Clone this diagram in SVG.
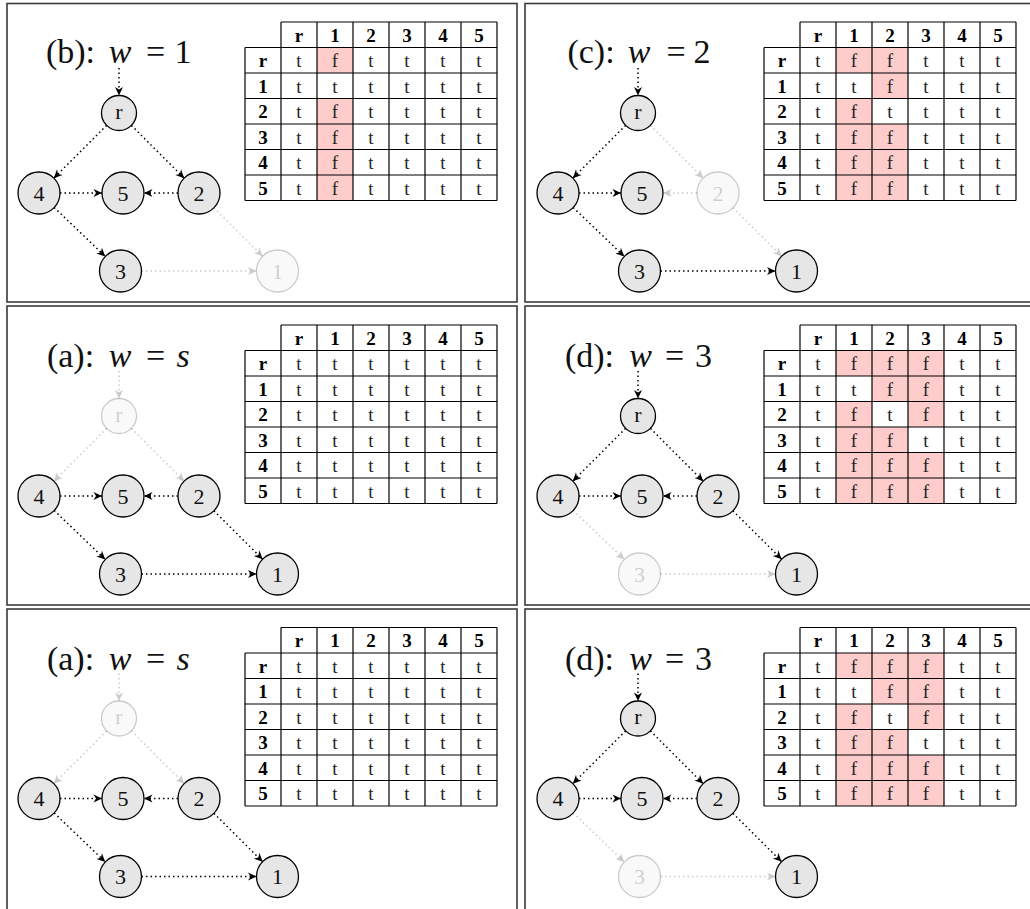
<svg xmlns="http://www.w3.org/2000/svg" xmlns:xlink="http://www.w3.org/1999/xlink" width="1030" height="909" viewBox="0 0 1030 909">
<style>
.bg{fill:#fff}
.frame{fill:none;stroke:#3a3a3a;stroke-width:1.6}
.nd circle{fill:#e6e6e6;stroke:#000;stroke-width:1.3}
.nd text{font-family:"Liberation Serif",serif;font-size:22px;text-anchor:middle;fill:#111}
.ed line{stroke:#000;stroke-width:1.5;stroke-dasharray:1.5 3;marker-end:url(#ah)}
.fd{opacity:.2}
.tl{font-family:"Liberation Serif",serif;font-size:34px;text-anchor:middle;fill:#111}
.gl{stroke:#000;stroke-width:1.2}
.hd{font-family:"Liberation Serif",serif;font-size:19px;font-weight:bold;text-anchor:middle;fill:#000}
.cl{font-family:"Liberation Serif",serif;font-size:19px;text-anchor:middle;fill:#222}
.pk{fill:#ffcccc}
</style>
<defs>
<marker id="ah" markerUnits="userSpaceOnUse" viewBox="-9 -5 10 10" refX="0" refY="0" markerWidth="10" markerHeight="10" orient="auto">
<path d="M0,0 L-8.5,-4 L-6,0 L-8.5,4 Z" fill="#000"/>
</marker>
<g id="grid">
<g class="gl">
<line x1="281" y1="22" x2="497" y2="22"/>
<line x1="245" y1="47.5" x2="497" y2="47.5"/>
<line x1="245" y1="73" x2="497" y2="73"/>
<line x1="245" y1="98.5" x2="497" y2="98.5"/>
<line x1="245" y1="124" x2="497" y2="124"/>
<line x1="245" y1="149.5" x2="497" y2="149.5"/>
<line x1="245" y1="175" x2="497" y2="175"/>
<line x1="245" y1="200.5" x2="497" y2="200.5"/>
<line x1="245" y1="47.5" x2="245" y2="200.5"/>
<line x1="281" y1="22" x2="281" y2="200.5"/>
<line x1="317" y1="22" x2="317" y2="200.5"/>
<line x1="353" y1="22" x2="353" y2="200.5"/>
<line x1="389" y1="22" x2="389" y2="200.5"/>
<line x1="425" y1="22" x2="425" y2="200.5"/>
<line x1="461" y1="22" x2="461" y2="200.5"/>
<line x1="497" y1="22" x2="497" y2="200.5"/>
</g>
<text class="hd" x="299 335 371 407 443 479" y="41.5">r12345</text>
<text class="hd" x="263 263 263 263 263 263" y="67 92.5 118 143.5 169 194.5">r12345</text>
</g>
</defs>
<rect class="bg" x="0" y="0" width="1030" height="909"/>

<!-- frames -->
<g id="frames">
<rect class="frame" x="7" y="3.5" width="510" height="298.5"/>
<rect class="frame" x="525" y="3.5" width="515" height="298.5"/>
<rect class="frame" x="7" y="306" width="510" height="299"/>
<rect class="frame" x="525" y="306" width="515" height="299"/>
<rect class="frame" x="7" y="609" width="510" height="310"/>
<rect class="frame" x="525" y="609" width="515" height="310"/>
</g>

<!-- Panel 1: (b) w=1 -->
<g id="panel-b" transform="translate(0,0)">
<text class="tl" y="63"><tspan x="70.5">(b):</tspan><tspan x="120" font-style="italic">w</tspan><tspan x="155.5">=</tspan><tspan x="183">1</tspan></text>
<g id="p1-edges" class="ed">
<line x1="119" y1="68" x2="119" y2="95.5"/>
<line x1="106.6" y1="125.4" x2="53.8" y2="178.2"/>
<line x1="131.4" y1="125.4" x2="184.2" y2="178.2"/>
<line x1="60" y1="193" x2="102" y2="193"/>
<line x1="178" y1="193" x2="144" y2="193"/>
<line x1="54.2" y1="207.5" x2="105.3" y2="256.5"/>
<g class="fd">
<line x1="213.9" y1="207.8" x2="262.6" y2="256.2"/>
<line x1="141.5" y1="271" x2="256.5" y2="271"/>
</g>
</g>
<g id="p1-r" class="nd"><circle cx="119" cy="113" r="17.5"/><text x="119" y="118.5">r</text></g>
<g id="p1-4" class="nd"><circle cx="39" cy="193" r="21"/><text x="39" y="200.5">4</text></g>
<g id="p1-5" class="nd"><circle cx="123" cy="193" r="21"/><text x="123" y="200.5">5</text></g>
<g id="p1-2" class="nd"><circle cx="199" cy="193" r="21"/><text x="199" y="200.5">2</text></g>
<g id="p1-3" class="nd"><circle cx="120.5" cy="271" r="21"/><text x="120.5" y="278.5">3</text></g>
<g id="p1-1" class="nd fd"><circle cx="277.5" cy="271" r="21"/><text x="277.5" y="278.5">1</text></g>
<g id="p1-table">
<rect class="pk" x="317" y="47.5" width="36" height="25.5"/>
<rect class="pk" x="317" y="98.5" width="36" height="102"/>
<use href="#grid" xlink:href="#grid"/>
<text class="cl" x="299 335 371 407 443 479" y="67">tftttt</text>
<text class="cl" x="299 335 371 407 443 479" y="92.5">tttttt</text>
<text class="cl" x="299 335 371 407 443 479" y="118">tftttt</text>
<text class="cl" x="299 335 371 407 443 479" y="143.5">tftttt</text>
<text class="cl" x="299 335 371 407 443 479" y="169">tftttt</text>
<text class="cl" x="299 335 371 407 443 479" y="194.5">tftttt</text>
</g>
</g>

<!-- Panel 2: (c) w=2 -->
<g id="panel-c" transform="translate(519,0)">
<text class="tl" y="63"><tspan x="72">(c):</tspan><tspan x="120" font-style="italic">w</tspan><tspan x="157">=</tspan><tspan x="183">2</tspan></text>
<g id="p2-edges" class="ed">
<line x1="119" y1="68" x2="119" y2="95.5"/>
<line x1="106.6" y1="125.4" x2="53.8" y2="178.2"/>
<line x1="60" y1="193" x2="102" y2="193"/>
<line x1="54.2" y1="207.5" x2="105.3" y2="256.5"/>
<line x1="141.5" y1="271" x2="256.5" y2="271"/>
<g class="fd">
<line x1="131.4" y1="125.4" x2="184.2" y2="178.2"/>
<line x1="178" y1="193" x2="144" y2="193"/>
<line x1="213.9" y1="207.8" x2="262.6" y2="256.2"/>
</g>
</g>
<g id="p2-r" class="nd"><circle cx="119" cy="113" r="17.5"/><text x="119" y="118.5">r</text></g>
<g id="p2-4" class="nd"><circle cx="39" cy="193" r="21"/><text x="39" y="200.5">4</text></g>
<g id="p2-5" class="nd"><circle cx="123" cy="193" r="21"/><text x="123" y="200.5">5</text></g>
<g id="p2-2" class="nd fd"><circle cx="199" cy="193" r="21"/><text x="199" y="200.5">2</text></g>
<g id="p2-3" class="nd"><circle cx="120.5" cy="271" r="21"/><text x="120.5" y="278.5">3</text></g>
<g id="p2-1" class="nd"><circle cx="277.5" cy="271" r="21"/><text x="277.5" y="278.5">1</text></g>
<g id="p2-table">
<rect class="pk" x="317" y="47.5" width="36" height="25.5"/>
<rect class="pk" x="317" y="98.5" width="36" height="102"/>
<rect class="pk" x="353" y="47.5" width="36" height="51"/>
<rect class="pk" x="353" y="124" width="36" height="76.5"/>
<use href="#grid" xlink:href="#grid"/>
<text class="cl" x="299 335 371 407 443 479" y="67">tffttt</text>
<text class="cl" x="299 335 371 407 443 479" y="92.5">ttfttt</text>
<text class="cl" x="299 335 371 407 443 479" y="118">tftttt</text>
<text class="cl" x="299 335 371 407 443 479" y="143.5">tffttt</text>
<text class="cl" x="299 335 371 407 443 479" y="169">tffttt</text>
<text class="cl" x="299 335 371 407 443 479" y="194.5">tffttt</text>
</g>
</g>

<!-- Panel 3: (a) w=s -->
<g id="panel-a1" transform="translate(0,303)">
<text class="tl" y="64"><tspan x="70.5">(a):</tspan><tspan x="120" font-style="italic">w</tspan><tspan x="155.5">=</tspan><tspan x="183" font-style="italic">s</tspan></text>
<g id="p3-edges" class="ed">
<line x1="60" y1="193" x2="102" y2="193"/>
<line x1="178" y1="193" x2="144" y2="193"/>
<line x1="54.2" y1="207.5" x2="105.3" y2="256.5"/>
<line x1="213.9" y1="207.8" x2="262.6" y2="256.2"/>
<line x1="141.5" y1="271" x2="256.5" y2="271"/>
<g class="fd">
<line x1="119" y1="68" x2="119" y2="95.5"/>
<line x1="106.6" y1="125.4" x2="53.8" y2="178.2"/>
<line x1="131.4" y1="125.4" x2="184.2" y2="178.2"/>
</g>
</g>
<g id="p3-r" class="nd fd"><circle cx="119" cy="113" r="17.5"/><text x="119" y="118.5">r</text></g>
<g id="p3-4" class="nd"><circle cx="39" cy="193" r="21"/><text x="39" y="200.5">4</text></g>
<g id="p3-5" class="nd"><circle cx="123" cy="193" r="21"/><text x="123" y="200.5">5</text></g>
<g id="p3-2" class="nd"><circle cx="199" cy="193" r="21"/><text x="199" y="200.5">2</text></g>
<g id="p3-3" class="nd"><circle cx="120.5" cy="271" r="21"/><text x="120.5" y="278.5">3</text></g>
<g id="p3-1" class="nd"><circle cx="277.5" cy="271" r="21"/><text x="277.5" y="278.5">1</text></g>
<g id="p3-table">
<use href="#grid" xlink:href="#grid"/>
<text class="cl" x="299 335 371 407 443 479" y="67">tttttt</text>
<text class="cl" x="299 335 371 407 443 479" y="92.5">tttttt</text>
<text class="cl" x="299 335 371 407 443 479" y="118">tttttt</text>
<text class="cl" x="299 335 371 407 443 479" y="143.5">tttttt</text>
<text class="cl" x="299 335 371 407 443 479" y="169">tttttt</text>
<text class="cl" x="299 335 371 407 443 479" y="194.5">tttttt</text>
</g>
</g>

<!-- Panel 4: (d) w=3 -->
<g id="panel-d1" transform="translate(519,303)">
<text class="tl" y="64"><tspan x="70.5">(d):</tspan><tspan x="121.5" font-style="italic">w</tspan><tspan x="155.5">=</tspan><tspan x="184.5">3</tspan></text>
<g id="p4-edges" class="ed">
<line x1="119" y1="68" x2="119" y2="95.5"/>
<line x1="106.6" y1="125.4" x2="53.8" y2="178.2"/>
<line x1="131.4" y1="125.4" x2="184.2" y2="178.2"/>
<line x1="60" y1="193" x2="102" y2="193"/>
<line x1="178" y1="193" x2="144" y2="193"/>
<line x1="213.9" y1="207.8" x2="262.6" y2="256.2"/>
<g class="fd">
<line x1="54.2" y1="207.5" x2="105.3" y2="256.5"/>
<line x1="141.5" y1="271" x2="256.5" y2="271"/>
</g>
</g>
<g id="p4-r" class="nd"><circle cx="119" cy="113" r="17.5"/><text x="119" y="118.5">r</text></g>
<g id="p4-4" class="nd"><circle cx="39" cy="193" r="21"/><text x="39" y="200.5">4</text></g>
<g id="p4-5" class="nd"><circle cx="123" cy="193" r="21"/><text x="123" y="200.5">5</text></g>
<g id="p4-2" class="nd"><circle cx="199" cy="193" r="21"/><text x="199" y="200.5">2</text></g>
<g id="p4-3" class="nd fd"><circle cx="120.5" cy="271" r="21"/><text x="120.5" y="278.5">3</text></g>
<g id="p4-1" class="nd"><circle cx="277.5" cy="271" r="21"/><text x="277.5" y="278.5">1</text></g>
<g id="p4-table">
<rect class="pk" x="317" y="47.5" width="36" height="25.5"/>
<rect class="pk" x="317" y="98.5" width="36" height="102"/>
<rect class="pk" x="353" y="47.5" width="36" height="51"/>
<rect class="pk" x="353" y="124" width="36" height="76.5"/>
<rect class="pk" x="389" y="47.5" width="36" height="76.5"/>
<rect class="pk" x="389" y="149.5" width="36" height="51"/>
<use href="#grid" xlink:href="#grid"/>
<text class="cl" x="299 335 371 407 443 479" y="67">tffftt</text>
<text class="cl" x="299 335 371 407 443 479" y="92.5">ttfftt</text>
<text class="cl" x="299 335 371 407 443 479" y="118">tftftt</text>
<text class="cl" x="299 335 371 407 443 479" y="143.5">tffttt</text>
<text class="cl" x="299 335 371 407 443 479" y="169">tffftt</text>
<text class="cl" x="299 335 371 407 443 479" y="194.5">tffftt</text>
</g>
</g>

<!-- Panel 5: (a) w=s -->
<g id="panel-a2" transform="translate(0,605.5)">
<text class="tl" y="64"><tspan x="70.5">(a):</tspan><tspan x="120" font-style="italic">w</tspan><tspan x="155.5">=</tspan><tspan x="183" font-style="italic">s</tspan></text>
<g id="p5-edges" class="ed">
<line x1="60" y1="193" x2="102" y2="193"/>
<line x1="178" y1="193" x2="144" y2="193"/>
<line x1="54.2" y1="207.5" x2="105.3" y2="256.5"/>
<line x1="213.9" y1="207.8" x2="262.6" y2="256.2"/>
<line x1="141.5" y1="271" x2="256.5" y2="271"/>
<g class="fd">
<line x1="119" y1="68" x2="119" y2="95.5"/>
<line x1="106.6" y1="125.4" x2="53.8" y2="178.2"/>
<line x1="131.4" y1="125.4" x2="184.2" y2="178.2"/>
</g>
</g>
<g id="p5-r" class="nd fd"><circle cx="119" cy="113" r="17.5"/><text x="119" y="118.5">r</text></g>
<g id="p5-4" class="nd"><circle cx="39" cy="193" r="21"/><text x="39" y="200.5">4</text></g>
<g id="p5-5" class="nd"><circle cx="123" cy="193" r="21"/><text x="123" y="200.5">5</text></g>
<g id="p5-2" class="nd"><circle cx="199" cy="193" r="21"/><text x="199" y="200.5">2</text></g>
<g id="p5-3" class="nd"><circle cx="120.5" cy="271" r="21"/><text x="120.5" y="278.5">3</text></g>
<g id="p5-1" class="nd"><circle cx="277.5" cy="271" r="21"/><text x="277.5" y="278.5">1</text></g>
<g id="p5-table">
<use href="#grid" xlink:href="#grid"/>
<text class="cl" x="299 335 371 407 443 479" y="67">tttttt</text>
<text class="cl" x="299 335 371 407 443 479" y="92.5">tttttt</text>
<text class="cl" x="299 335 371 407 443 479" y="118">tttttt</text>
<text class="cl" x="299 335 371 407 443 479" y="143.5">tttttt</text>
<text class="cl" x="299 335 371 407 443 479" y="169">tttttt</text>
<text class="cl" x="299 335 371 407 443 479" y="194.5">tttttt</text>
</g>
</g>

<!-- Panel 6: (d) w=3 -->
<g id="panel-d2" transform="translate(519,605.5)">
<text class="tl" y="64"><tspan x="70.5">(d):</tspan><tspan x="121.5" font-style="italic">w</tspan><tspan x="155.5">=</tspan><tspan x="184.5">3</tspan></text>
<g id="p6-edges" class="ed">
<line x1="119" y1="68" x2="119" y2="95.5"/>
<line x1="106.6" y1="125.4" x2="53.8" y2="178.2"/>
<line x1="131.4" y1="125.4" x2="184.2" y2="178.2"/>
<line x1="60" y1="193" x2="102" y2="193"/>
<line x1="178" y1="193" x2="144" y2="193"/>
<line x1="213.9" y1="207.8" x2="262.6" y2="256.2"/>
<g class="fd">
<line x1="54.2" y1="207.5" x2="105.3" y2="256.5"/>
<line x1="141.5" y1="271" x2="256.5" y2="271"/>
</g>
</g>
<g id="p6-r" class="nd"><circle cx="119" cy="113" r="17.5"/><text x="119" y="118.5">r</text></g>
<g id="p6-4" class="nd"><circle cx="39" cy="193" r="21"/><text x="39" y="200.5">4</text></g>
<g id="p6-5" class="nd"><circle cx="123" cy="193" r="21"/><text x="123" y="200.5">5</text></g>
<g id="p6-2" class="nd"><circle cx="199" cy="193" r="21"/><text x="199" y="200.5">2</text></g>
<g id="p6-3" class="nd fd"><circle cx="120.5" cy="271" r="21"/><text x="120.5" y="278.5">3</text></g>
<g id="p6-1" class="nd"><circle cx="277.5" cy="271" r="21"/><text x="277.5" y="278.5">1</text></g>
<g id="p6-table">
<rect class="pk" x="317" y="47.5" width="36" height="25.5"/>
<rect class="pk" x="317" y="98.5" width="36" height="102"/>
<rect class="pk" x="353" y="47.5" width="36" height="51"/>
<rect class="pk" x="353" y="124" width="36" height="76.5"/>
<rect class="pk" x="389" y="47.5" width="36" height="76.5"/>
<rect class="pk" x="389" y="149.5" width="36" height="51"/>
<use href="#grid" xlink:href="#grid"/>
<text class="cl" x="299 335 371 407 443 479" y="67">tffftt</text>
<text class="cl" x="299 335 371 407 443 479" y="92.5">ttfftt</text>
<text class="cl" x="299 335 371 407 443 479" y="118">tftftt</text>
<text class="cl" x="299 335 371 407 443 479" y="143.5">tffttt</text>
<text class="cl" x="299 335 371 407 443 479" y="169">tffftt</text>
<text class="cl" x="299 335 371 407 443 479" y="194.5">tffftt</text>
</g>
</g>
</svg>
